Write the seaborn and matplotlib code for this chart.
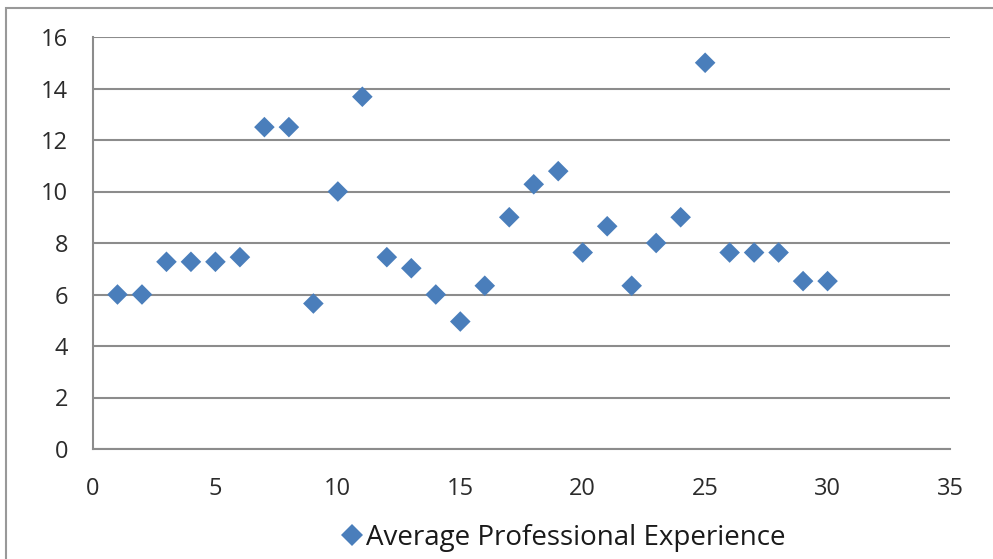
import pandas as pd
import seaborn as sns
import matplotlib.pyplot as plt
from matplotlib.patches import Rectangle
from matplotlib.lines import Line2D

# values
x_vals = list(range(1, 31))
y_vals = [6.0, 6.0, 7.27, 7.27, 7.27, 7.45, 12.5, 12.5, 5.65, 10.0,
          13.68, 7.45, 7.02, 6.0, 4.95, 6.34, 9.0, 10.28, 10.79, 7.63,
          8.65, 6.34, 8.0, 9.0, 15.0, 7.63, 7.63, 7.63, 6.52, 6.52]
series_name = "Average Professional Experience"

df = pd.DataFrame({"x": x_vals, "y": y_vals})

sns.set_style("white")
plt.rcParams["font.family"] = ["Open Sans", "DejaVu Sans"]

blue = "#4a7ebb"
grey = "#8c8c8c"

fig = plt.figure(figsize=(9.93, 5.59), dpi=100)
ax = fig.add_axes([93 / 993, 1 - 449 / 559, (950 - 93) / 993, (449 - 37) / 559])

sns.scatterplot(data=df, x="x", y="y", marker="D", s=110, color=blue,
                edgecolor="none", ax=ax, zorder=3)

ax.set_xlim(0, 35)
ax.set_ylim(0, 16)
ax.set_xticks(range(0, 36, 5))
ax.set_yticks(range(0, 17, 2))
ax.set_xlabel("")
ax.set_ylabel("")

ax.grid(axis="y", color=grey, linewidth=1.5)
ax.grid(axis="x", visible=False)
for side in ["top", "right"]:
    ax.spines[side].set_visible(False)
for side in ["left", "bottom"]:
    ax.spines[side].set_color(grey)
    ax.spines[side].set_linewidth(1.5)

ax.tick_params(axis="both", which="major", direction="out", length=8,
               width=1.5, color=grey, labelsize=17, labelcolor="#2b2b2b")
ax.tick_params(axis="x", pad=12)
ax.tick_params(axis="y", pad=10)

handle = Line2D([], [], marker="D", linestyle="none", color=blue,
                markersize=11, markeredgewidth=0)
fig.legend([handle], [series_name], loc="center", bbox_to_anchor=(562 / 993, 1 - 538 / 559),
           frameon=False, fontsize=20, handletextpad=0.0, handlelength=1.0,
           labelcolor="#1a1a1a")

# outer chart frame (cut off at right/bottom in the reference)
fig.patches.append(Rectangle((6 / 993, -0.1), 1.2, 1.1 - 8 / 559,
                             transform=fig.transFigure, fill=False,
                             edgecolor="#999999", linewidth=1.5))

fig.savefig("out.png", dpi=100)
